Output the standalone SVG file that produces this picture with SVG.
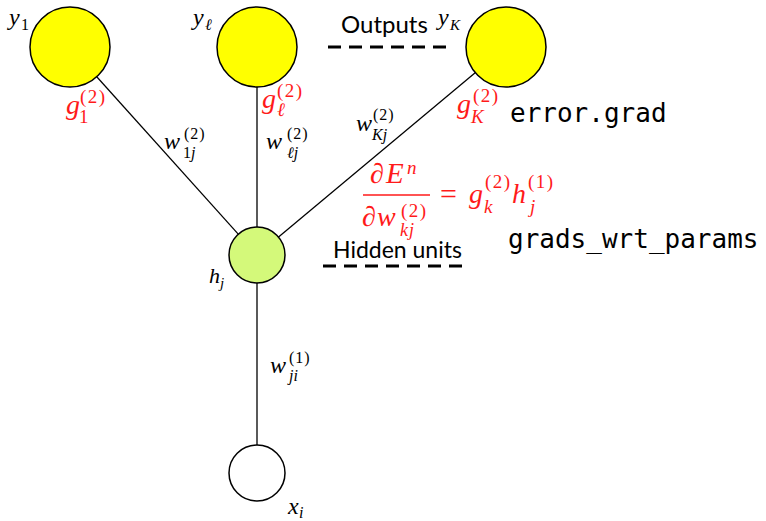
<svg xmlns="http://www.w3.org/2000/svg" width="766" height="521" viewBox="0 0 766 521">
<style>
.node{stroke:#000;stroke-width:1.5}
.edge{stroke:#000;stroke-width:1.3;fill:none}
.dash{stroke:#000;stroke-width:3;stroke-dasharray:13 8;fill:none}
.mi{font-family:'Liberation Serif','Times New Roman',serif;font-style:italic;fill:#000}
.mr{font-family:'Liberation Serif','Times New Roman',serif;font-style:italic;fill:#ff1a1a}
.up{font-style:normal}
.ls{letter-spacing:1.5px}
.sans{font-family:Lato,'Open Sans',sans-serif;fill:#000}
.mono{font-family:'DejaVu Sans Mono','Liberation Mono',monospace;fill:#000;font-size:26px}
</style>
<rect width="766" height="521" fill="#fff"/>
<g id="connectors">
<line class="edge" x1="70" y1="47" x2="257" y2="255"/>
<line class="edge" x1="257" y1="47" x2="257" y2="255"/>
<line class="edge" x1="506" y1="47" x2="257" y2="255"/>
<line class="edge" x1="257" y1="255" x2="257" y2="473"/>
</g>
<g id="y1">
<circle class="node" cx="70" cy="47" r="40" fill="#ffff00"/>
<text class="mi" font-size="24"><tspan x="9" y="25">y</tspan><tspan class="up" x="21" y="30" font-size="16">1</tspan></text>
<text class="mr" font-size="28"><tspan x="66" y="114">g</tspan><tspan class="up ls" x="80" y="103" font-size="19">(2)</tspan><tspan class="up" x="79" y="123" font-size="19">1</tspan></text>
</g>
<g id="yl">
<circle class="node" cx="257" cy="47" r="40" fill="#ffff00"/>
<text class="mi" font-size="24"><tspan x="193" y="25">y</tspan><tspan x="205" y="30" font-size="16">ℓ</tspan></text>
<text class="mr" font-size="28"><tspan x="262" y="108">g</tspan><tspan class="up ls" x="277" y="97" font-size="19">(2)</tspan><tspan x="277" y="116" font-size="19">ℓ</tspan></text>
</g>
<g id="yK">
<circle class="node" cx="506" cy="47" r="40" fill="#ffff00"/>
<text class="mi" font-size="24"><tspan x="438" y="25">y</tspan><tspan x="450" y="30" font-size="15">K</tspan></text>
<text class="mr" font-size="28"><tspan x="457" y="113">g</tspan><tspan class="up ls" x="473" y="102" font-size="19">(2)</tspan><tspan x="471" y="123" font-size="19">K</tspan></text>
</g>
<g id="outputs">
<text class="sans" x="341" y="33" font-size="24">Outputs</text>
<line class="dash" x1="328" y1="47" x2="450" y2="47"/>
</g>
<text id="error-grad" class="mono" x="510" y="122">error.grad</text>
<g id="weights2">
<text class="mi" font-size="24"><tspan x="164" y="149">w</tspan><tspan class="up" x="184" y="139" font-size="16" style="letter-spacing:1px">(2)</tspan><tspan class="up" x="183" y="158" font-size="16">1</tspan><tspan font-size="16">j</tspan></text>
<text class="mi" font-size="24"><tspan x="266" y="149">w</tspan><tspan class="up" x="287" y="139" font-size="16" style="letter-spacing:1px">(2)</tspan><tspan x="287" y="158" font-size="16">ℓj</tspan></text>
<text class="mi" font-size="24"><tspan x="356" y="131">w</tspan><tspan class="up" x="373" y="120" font-size="16" style="letter-spacing:1px">(2)</tspan><tspan x="372" y="140" font-size="16">Kj</tspan></text>
</g>
<g id="formula">
<text class="mr" font-size="28"><tspan x="370" y="183">∂</tspan><tspan x="386" y="183" font-size="29">E</tspan><tspan x="407" y="174" font-size="19">n</tspan></text>
<line x1="363" y1="195" x2="430" y2="195" stroke="#ff1a1a" stroke-width="1.5"/>
<text class="mr" font-size="28"><tspan x="362" y="226">∂</tspan><tspan x="377" y="226">w</tspan><tspan class="up ls" x="401" y="217" font-size="19">(2)</tspan><tspan x="400" y="236" font-size="18" style="letter-spacing:1px">kj</tspan></text>
<text class="mr" font-size="28"><tspan class="up" x="440" y="204" font-size="30">=</tspan><tspan x="469" y="203">g</tspan><tspan class="up ls" x="485" y="188" font-size="19">(2)</tspan><tspan x="484" y="213" font-size="19">k</tspan><tspan x="512" y="203">h</tspan><tspan class="up ls" x="528" y="188" font-size="19">(1)</tspan><tspan x="530" y="213" font-size="19">j</tspan></text>
</g>
<g id="hidden-units">
<text class="sans" x="333" y="258" font-size="23">Hidden units</text>
<line class="dash" x1="323" y1="266" x2="465" y2="266"/>
</g>
<text id="grads-wrt-params" class="mono" x="508" y="248">grads_wrt_params</text>
<g id="hj">
<circle class="node" cx="257" cy="255" r="28" fill="#d4f97a"/>
<text class="mi" font-size="22"><tspan x="209" y="283">h</tspan><tspan x="220" y="288" font-size="15">j</tspan></text>
</g>
<g id="weight1">
<text class="mi" font-size="24"><tspan x="270" y="373">w</tspan><tspan class="up" x="289" y="363" font-size="16" style="letter-spacing:1px">(1)</tspan><tspan x="289" y="381" font-size="16">ji</tspan></text>
</g>
<g id="xi">
<circle class="node" cx="257" cy="473" r="28" fill="#fff"/>
<text class="mi" font-size="24"><tspan x="288" y="514">x</tspan><tspan x="299" y="518" font-size="16">i</tspan></text>
</g>
</svg>
